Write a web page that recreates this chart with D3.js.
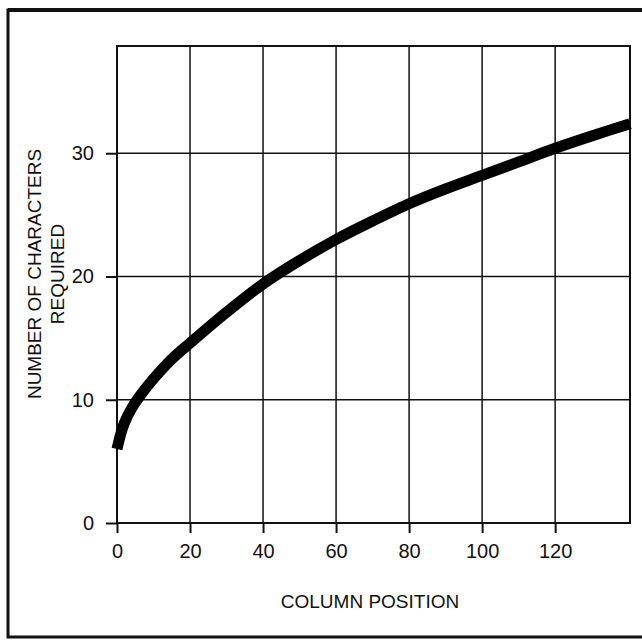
<!DOCTYPE html>
<html>
<head>
<meta charset="utf-8">
<script src="https://cdn.jsdelivr.net/npm/d3@7"></script>
<style>
  body { margin: 0; background: #fff; }
  svg { display: block; }
  text { font-family: "Liberation Sans", Arial, sans-serif; fill: #111; }
</style>
</head>
<body>
<svg id="chart" width="642" height="641"></svg>
<script>
// values
const columnPos = [0, 1, 2, 4, 6, 10, 15, 20, 30, 40, 50, 60, 70, 80, 90, 100, 110, 120, 130, 140.5];
const charsRequired = [6.0, 7.2, 8.1, 9.3, 10.2, 11.7, 13.3, 14.6, 17.1, 19.4, 21.3, 23.0, 24.5, 25.9, 27.1, 28.2, 29.3, 30.4, 31.4, 32.4];
const xTicks = [0, 20, 40, 60, 80, 100, 120];
const yTicks = [0, 10, 20, 30];
const xTitle = "COLUMN POSITION";
const yTitle = ["NUMBER OF CHARACTERS", "REQUIRED"];

let margin = { top: 46, right: 12, bottom: 118, left: 117 };
let svg = d3.select("#chart");
let W = +svg.attr("width"), H = +svg.attr("height");
let plotWidth = W - margin.left - margin.right;
let plotHeight = H - margin.top - margin.bottom;

// outer frame, runs off the right edge
svg.append("rect")
  .attr("x", 8).attr("y", 10)
  .attr("width", 660).attr("height", 627)
  .attr("fill", "none")
  .attr("stroke", "#111")
  .attr("stroke-width", 3);
svg.append("line")
  .attr("x1", 8).attr("x2", 642)
  .attr("y1", 10).attr("y2", 10)
  .attr("stroke", "#111").attr("stroke-width", 4);

let x = d3.scaleLinear().domain([0, 140.5]).range([0, plotWidth]);
let y = d3.scaleLinear().domain([0, 38.7]).range([plotHeight, 0]);

let g = svg.append("g")
  .attr("transform", "translate(" + margin.left + "," + margin.top + ")");

// grid
g.selectAll(".vgrid").data(xTicks.slice(1)).enter().append("line")
  .attr("x1", d => x(d)).attr("x2", d => x(d))
  .attr("y1", 0).attr("y2", plotHeight)
  .attr("stroke", "#111").attr("stroke-width", 1.5);
g.selectAll(".hgrid").data(yTicks.slice(1)).enter().append("line")
  .attr("x1", 0).attr("x2", plotWidth)
  .attr("y1", d => y(d)).attr("y2", d => y(d))
  .attr("stroke", "#111").attr("stroke-width", 1.5);

// axes
let xAxis = g.append("g")
  .attr("transform", "translate(0," + plotHeight + ")")
  .call(d3.axisBottom(x).tickValues(xTicks).tickSize(10).tickPadding(11).tickSizeOuter(0));
let yAxis = g.append("g")
  .call(d3.axisLeft(y).tickValues(yTicks).tickSize(11).tickPadding(12).tickSizeOuter(0));
[xAxis, yAxis].forEach(a => {
  a.select(".domain").remove();
  a.selectAll(".tick line").attr("stroke", "#111").attr("stroke-width", 2);
  a.selectAll(".tick text").style("font-size", "20px").attr("fill", "#111");
});

// plot border
g.append("rect")
  .attr("x", 0).attr("y", 0)
  .attr("width", plotWidth).attr("height", plotHeight)
  .attr("fill", "none")
  .attr("stroke", "#111")
  .attr("stroke-width", 2);

// curve
let line = d3.line()
  .x((d, i) => x(columnPos[i]))
  .y(d => y(d))
  .curve(d3.curveCatmullRom.alpha(0.5));
g.append("path")
  .datum(charsRequired)
  .attr("d", line)
  .attr("fill", "none")
  .attr("stroke", "#000")
  .attr("stroke-width", 11);

// titles
svg.append("text")
  .attr("x", 370).attr("y", 608)
  .attr("text-anchor", "middle")
  .style("font-size", "19px")
  .text(xTitle);

svg.selectAll(".ytitle").data(yTitle).enter().append("text")
  .attr("transform", (d, i) => "translate(" + (41 + i * 23) + ",274) rotate(-90)")
  .attr("text-anchor", "middle")
  .style("font-size", "19px")
  .text(d => d);
</script>
</body>
</html>
